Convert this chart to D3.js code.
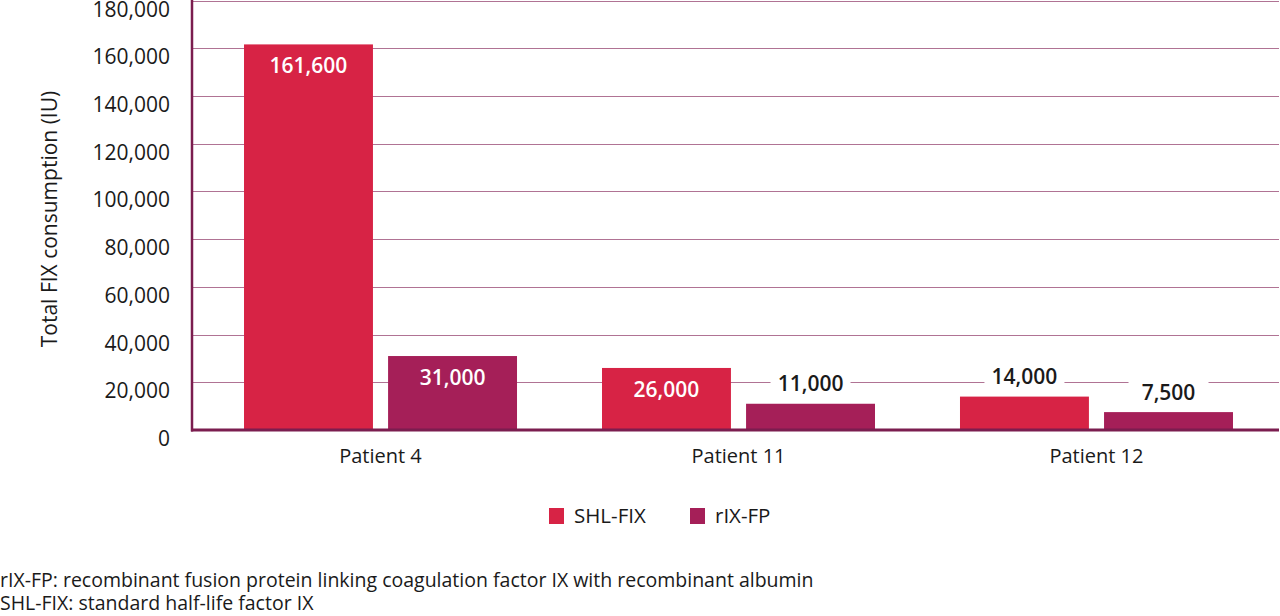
<!DOCTYPE html>
<html><head><meta charset="utf-8">
<script src="https://cdn.jsdelivr.net/npm/d3@7"></script>
<style>
html,body{margin:0;padding:0;background:#fff;}
svg{display:block;font-family:"Open Sans","Lato",sans-serif;}
</style></head>
<body><svg id="c" width="1280" height="616"></svg>
<script>
const categories = ["Patient 4", "Patient 11", "Patient 12"];
const seriesNames = ["SHL-FIX", "rIX-FP"];
const shlFix = [161600, 26000, 14000];
const rixFp = [31000, 11000, 7500];
const valueLabels = [["161,600","26,000","14,000"],["31,000","11,000","7,500"]];
const labelInside = [[true,true,false],[true,false,false]];
const yTicks = [0,20000,40000,60000,80000,100000,120000,140000,160000,180000];
const yTitle = "Total FIX consumption (IU)";
const footnotes = ["rIX-FP: recombinant fusion protein linking coagulation factor IX with recombinant albumin","SHL-FIX: standard half-life factor IX"];
const colors = ["#d72345", "#a51f58"];

(function(){
const svg = d3.select("#c");
const plotLeft = 192, plotTop = 0.5, baseY = 430, plotRight = 1279;
const y = d3.scaleLinear().domain([0,180000]).range([baseY, plotTop]);
const x0 = d3.scaleBand().domain(categories).range([192, 1285]).paddingInner(0.2374).paddingOuter(0.1453);
const x1 = d3.scaleBand().domain(seriesNames).range([0, x0.bandwidth()]).paddingInner(0.105);
const gridColor = "#b07394";
const axisColor = "#7b1d4f";
const ink = "#1a1a1a";

// grid
svg.append("g").selectAll("line").data(yTicks.filter(d=>d>0)).join("line")
  .attr("x1", plotLeft).attr("x2", plotRight)
  .attr("y1", d=>Math.round(y(d))+0.5).attr("y2", d=>Math.round(y(d))+0.5)
  .attr("stroke", gridColor).attr("stroke-width", 1);

// y axis labels (sit slightly below their grid lines, as in the reference)
const yAxis = d3.axisLeft(y).tickValues(yTicks).tickSize(0).tickPadding(22).tickFormat(d3.format(","));
const ga = svg.append("g").attr("transform", `translate(${plotLeft},8)`).call(yAxis);
ga.select(".domain").remove();
ga.selectAll("text").attr("font-size", 21).attr("fill", ink)
  .attr("font-family", "Open Sans, sans-serif").attr("dy", "0.36em");

// bars
const series = [shlFix, rixFp];
series.forEach((vals, si) => {
  svg.append("g").selectAll("rect").data(categories).join("rect")
    .attr("x", (c)=> x0(c) + x1(seriesNames[si]))
    .attr("width", x1.bandwidth())
    .attr("y", (c,i)=> y(vals[i]))
    .attr("height", (c,i)=> baseY - y(vals[i]))
    .attr("fill", colors[si]);
});

// axes lines
svg.append("line").attr("x1", plotLeft).attr("x2", plotLeft).attr("y1", 0).attr("y2", baseY+1.5)
  .attr("stroke", axisColor).attr("stroke-width", 2.5);
svg.append("line").attr("x1", plotLeft-1).attr("x2", plotRight).attr("y1", baseY).attr("y2", baseY)
  .attr("stroke", axisColor).attr("stroke-width", 3);

// value labels
series.forEach((vals, si) => {
  categories.forEach((c, i) => {
    const cx = x0(c) + x1(seriesNames[si]) + x1.bandwidth()/2;
    const inside = labelInside[si][i];
    const ly = inside ? y(vals[i]) + 21 : y(vals[i]) - 20;
    if (!inside) {
      svg.append("rect").attr("x", cx - 40).attr("y", ly - 12).attr("width", 80).attr("height", 24).attr("fill", "#fff");
    }
    svg.append("text").attr("x", cx).attr("y", ly).attr("dy", "0.36em")
      .attr("text-anchor", "middle").attr("font-size", 21)
      .attr("font-weight", 600)
      .attr("fill", inside ? "#fff" : ink)
      .text(valueLabels[si][i]);
  });
});

// x labels
svg.append("g").selectAll("text").data(categories).join("text")
  .attr("x", c => x0(c) + x0.bandwidth()/2).attr("y", 456).attr("dy", "0.36em")
  .attr("text-anchor", "middle").attr("font-size", 20).attr("fill", ink).text(c=>c);

// y title
svg.append("text").attr("transform", "translate(49,219) rotate(-90)").attr("dy", "0.36em")
  .attr("text-anchor", "middle").attr("font-size", 21).attr("fill", ink).text(yTitle);

// legend
const legX = [549, 690];
seriesNames.forEach((s, i) => {
  svg.append("rect").attr("x", legX[i]).attr("y", 508).attr("width", 15).attr("height", 16).attr("fill", colors[i]);
  svg.append("text").attr("x", legX[i] + 25).attr("y", 516).attr("dy", "0.36em")
    .attr("font-size", 20.5).attr("fill", ink).text(s);
});

// footnotes
svg.append("g").selectAll("text").data(footnotes).join("text")
  .attr("x", 0).attr("y", (d,i)=> 580 + i*23).attr("dy", "0.36em")
  .attr("font-size", 19.5).attr("fill", ink).text(d=>d);
})();
</script></body></html>
